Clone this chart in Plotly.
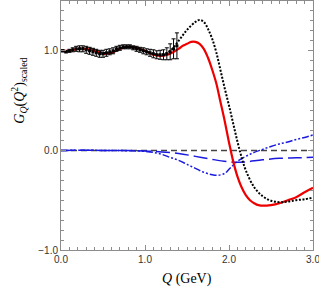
import plotly.graph_objects as go

# Black dotted curve
q_black = [0.0, 0.1, 0.2, 0.3, 0.4, 0.5, 0.6, 0.7, 0.8, 0.9, 1.0, 1.1, 1.2, 1.3, 1.4, 1.5, 1.6, 1.65, 1.7, 1.75, 1.8, 1.85, 1.9, 1.95, 2.0, 2.05, 2.1, 2.15, 2.2, 2.3, 2.4, 2.5, 2.6, 2.7, 2.8, 2.9, 3.0]
g_black = [1.00, 1.00, 1.02, 1.03, 1.01, 0.98, 0.98, 1.02, 1.04, 1.03, 1.00, 0.97, 0.96, 1.00, 1.10, 1.21, 1.29, 1.31, 1.29, 1.22, 1.12, 0.98, 0.80, 0.62, 0.45, 0.27, 0.09, -0.07, -0.20, -0.37, -0.46, -0.505, -0.52, -0.515, -0.50, -0.49, -0.475]

# Red solid curve
q_red = [0.0, 0.1, 0.2, 0.3, 0.4, 0.5, 0.6, 0.7, 0.8, 0.9, 1.0, 1.1, 1.2, 1.3, 1.4, 1.45, 1.5, 1.55, 1.6, 1.65, 1.7, 1.75, 1.8, 1.85, 1.9, 1.95, 2.0, 2.05, 2.1, 2.15, 2.2, 2.25, 2.3, 2.35, 2.45, 2.5, 2.6, 2.7, 2.8, 2.9, 3.0]
g_red = [1.00, 1.00, 1.02, 1.02, 1.00, 0.97, 0.98, 1.02, 1.04, 1.03, 1.00, 0.96, 0.95, 0.97, 1.02, 1.05, 1.07, 1.09, 1.09, 1.07, 1.02, 0.93, 0.81, 0.67, 0.48, 0.29, 0.08, -0.11, -0.26, -0.37, -0.45, -0.50, -0.53, -0.55, -0.555, -0.55, -0.53, -0.50, -0.47, -0.42, -0.375]

# Blue dash-dot-dot curve
q_bdd = [0.0, 0.5, 0.9, 1.0, 1.1, 1.2, 1.3, 1.4, 1.5, 1.6, 1.7, 1.8, 1.87, 1.95, 2.0, 2.1, 2.2, 2.3, 2.4, 2.5, 2.6, 2.7, 2.8, 2.9, 3.0]
g_bdd = [0.0, 0.0, -0.005, -0.01, -0.02, -0.04, -0.07, -0.10, -0.14, -0.18, -0.22, -0.245, -0.25, -0.23, -0.19, -0.11, -0.06, -0.02, 0.01, 0.04, 0.065, 0.085, 0.11, 0.13, 0.155]

# Blue long-dash curve
q_bld = [0.0, 0.5, 1.0, 1.2, 1.4, 1.6, 1.8, 2.0, 2.1, 2.2, 2.4, 2.6, 2.8, 3.0]
g_bld = [0.0, 0.0, -0.005, -0.015, -0.03, -0.06, -0.09, -0.115, -0.12, -0.115, -0.095, -0.08, -0.075, -0.07]

# Zero reference line
q_zero = [0.0, 3.0]
g_zero = [0.0, 0.0]

# Data points with errors
q_data = [0.02, 0.06, 0.10, 0.14, 0.18, 0.22, 0.26, 0.30, 0.34, 0.38, 0.42, 0.46, 0.50, 0.54, 0.58, 0.62, 0.66, 0.70, 0.74, 0.78, 0.82, 0.86, 0.90, 0.94, 0.98, 1.02, 1.06, 1.10, 1.14, 1.18, 1.22, 1.26, 1.30, 1.34, 1.38]
g_data = [1.00, 0.99, 1.00, 1.01, 1.02, 1.02, 1.02, 1.01, 1.00, 0.99, 0.98, 0.97, 0.97, 0.98, 0.99, 1.00, 1.02, 1.03, 1.04, 1.04, 1.04, 1.03, 1.02, 1.01, 1.00, 0.99, 0.98, 0.97, 0.96, 0.96, 0.96, 0.97, 0.99, 1.02, 1.05]
e_data = [0.01, 0.01, 0.015, 0.02, 0.025, 0.03, 0.03, 0.035, 0.035, 0.035, 0.035, 0.035, 0.035, 0.035, 0.03, 0.03, 0.025, 0.025, 0.02, 0.02, 0.02, 0.02, 0.025, 0.025, 0.03, 0.03, 0.035, 0.04, 0.04, 0.045, 0.05, 0.06, 0.08, 0.10, 0.13]

x_ticks = [0.0, 1.0, 2.0, 3.0]
y_ticks = [-1.0, 0.0, 1.0]
x_title = "<i>Q</i> (GeV)"
y_title = "<i>G<sub>Q</sub></i>(<i>Q</i><sup>2</sup>)<sub>scaled</sub>"

SERIF = "Liberation Serif, Times New Roman, DejaVu Serif, serif"

fig = go.Figure()
fig.add_trace(go.Scatter(x=q_zero, y=g_zero, mode="lines",
                         line=dict(color="#444444", width=1.5, dash="6px,4px")))
fig.add_trace(go.Scatter(x=q_bld, y=g_bld, mode="lines", line_shape="spline",
                         line=dict(color="#1a1adf", width=1.5, dash="14px,5px")))
fig.add_trace(go.Scatter(x=q_bdd, y=g_bdd, mode="lines", line_shape="spline",
                         line=dict(color="#1a1adf", width=1.5, dash="7px,2px,2px,2px,2px,2px")))
fig.add_trace(go.Scatter(x=q_red, y=g_red, mode="lines", line_shape="spline",
                         line=dict(color="#ee0000", width=2.2)))
fig.add_trace(go.Scatter(x=q_black, y=g_black, mode="lines", line_shape="spline",
                         line=dict(color="black", width=2.0, dash="2px,1.6px")))
fig.add_trace(go.Scatter(x=q_data, y=g_data, mode="markers",
                         marker=dict(color="black", size=3, symbol="square"),
                         error_y=dict(type="data", array=e_data, color="black",
                                      thickness=1, width=2)))

axis_common = dict(showline=True, linecolor="#8c8c8c", linewidth=1, mirror="ticks",
                   ticks="inside", ticklen=5, tickcolor="#8c8c8c", showgrid=False,
                   zeroline=False, tickformat=".1f", automargin=False,
                   ticklabeloverflow="allow",
                   tickfont=dict(family="Liberation Sans, Arial, sans-serif", size=10, color="#333333"))

fig.update_layout(
    width=319, height=290,
    margin=dict(l=61, r=6, t=1, b=40),
    plot_bgcolor="white", paper_bgcolor="white",
    showlegend=False,
    xaxis=dict(range=[0, 3], tickvals=x_ticks,
               minor=dict(dtick=0.1, ticks="inside", ticklen=3, tickcolor="#8c8c8c"),
               **axis_common),
    yaxis=dict(range=[-1, 1.5], tickvals=y_ticks,
               minor=dict(dtick=0.1, ticks="inside", ticklen=3, tickcolor="#8c8c8c"),
               **axis_common),
    annotations=[
        dict(text=x_title, xref="paper", yref="paper", x=0.5, y=0,
             xanchor="center", yanchor="middle", yshift=-29, showarrow=False,
             font=dict(family=SERIF, size=14, color="black")),
        dict(text=y_title, xref="paper", yref="paper", x=0, y=0.64,
             xanchor="center", yanchor="middle", xshift=-42, showarrow=False,
             textangle=-90,
             font=dict(family=SERIF, size=14, color="black")),
    ],
)

fig.write_html("out.html", config={"displayModeBar": False},
               post_script="document.body.style.margin='0';document.body.style.padding='0';")
